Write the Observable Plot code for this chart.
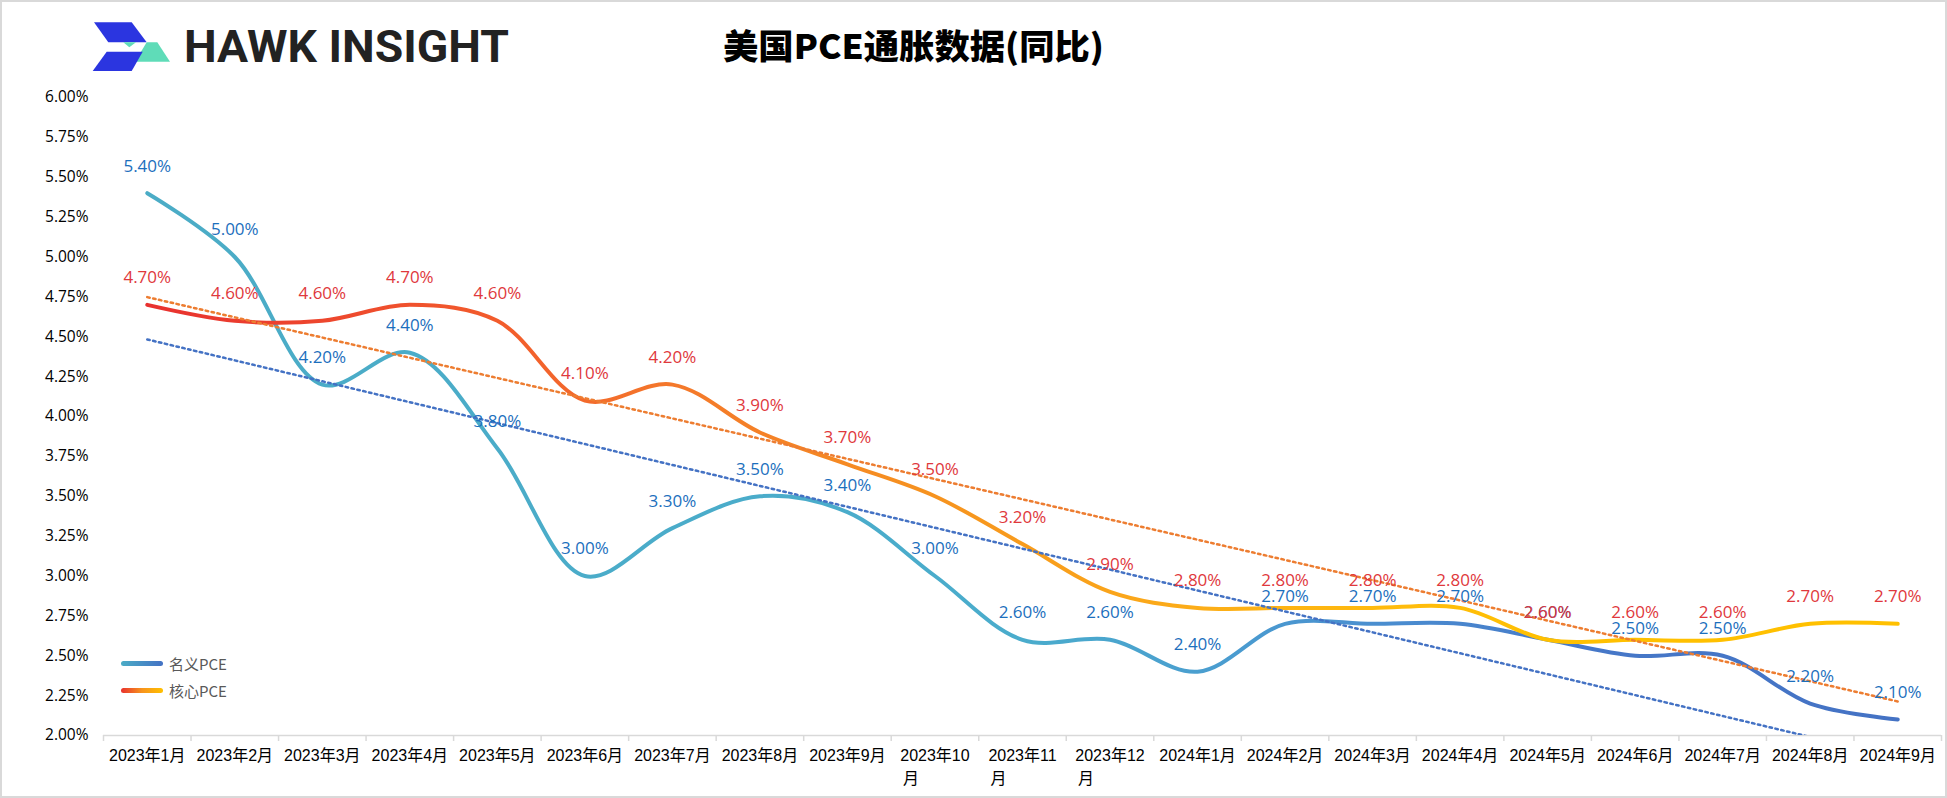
<!DOCTYPE html>
<html>
<head>
<meta charset="utf-8">
<script src="https://cdn.jsdelivr.net/npm/d3@7"></script>
<script src="https://cdn.jsdelivr.net/npm/@observablehq/plot@0.6"></script>
<style>
  html, body { margin: 0; padding: 0; background: #fff; }
  #wrap { position: relative; width: 1947px; height: 798px; overflow: hidden; background: #fff; }
  #frame { position: absolute; left: 0; top: 0; width: 1947px; height: 798px; box-sizing: border-box; border: 2px solid #d9d9d9; pointer-events: none; z-index: 5; }
  #header { position: absolute; left: 0; top: 0; }
  #chart { position: absolute; left: 0; top: 80px; }
  #legend { position: absolute; left: 121px; top: 650px; font-family: "Noto Sans CJK SC", "Open Sans", sans-serif; font-size: 15px; color: #595959; }
  .lg { display: flex; align-items: center; height: 27px; }
  .sw { width: 42px; height: 5px; border-radius: 3px; margin-right: 6px; }
</style>
</head>
<body>
<div id="wrap">
  <svg id="header" width="1947" height="80" xmlns="http://www.w3.org/2000/svg">
    <polygon points="94,22.3 131.7,22.3 146.7,42.3 108.3,42.3" fill="#2b35e0"/>
    <polygon points="146.7,42.3 157.3,42.3 170,61.7 135,61.7" fill="#5fdcb8"/>
    <polygon points="123.3,42.3 136,42.3 129.3,47.3" fill="#5fdcb8"/>
    <polygon points="106.7,51.7 142.7,51.7 131.7,71 92.7,71" fill="#2b35e0"/>
    <text x="184" y="62" font-family="Roboto, 'Liberation Sans', sans-serif" font-weight="700" font-size="44" fill="#222" textLength="325" lengthAdjust="spacingAndGlyphs">HAWK INSIGHT</text>
    <text x="723" y="59" font-family="'Noto Sans CJK SC', sans-serif" font-weight="900" font-size="34" fill="#000" textLength="381" lengthAdjust="spacingAndGlyphs">美国PCE通胀数据(同比)</text>
  </svg>
  <div id="chart"></div>
  <div id="legend">
    <div class="lg"><div class="sw" style="background: linear-gradient(to right, #4bacc6, #4472c4);"></div><span>名义PCE</span></div>
    <div class="lg"><div class="sw" style="background: linear-gradient(to right, #e8312f, #f7941d, #ffc000);"></div><span>核心PCE</span></div>
  </div>
  <div id="frame"></div>
</div>
<script>
// ---- data ----
const categories = [
  "2023年1月", "2023年2月", "2023年3月", "2023年4月", "2023年5月", "2023年6月",
  "2023年7月", "2023年8月", "2023年9月", "2023年10\n月", "2023年11\n月", "2023年12\n月",
  "2024年1月", "2024年2月", "2024年3月", "2024年4月", "2024年5月", "2024年6月",
  "2024年7月", "2024年8月", "2024年9月"
];
const nominalPCE = [5.4, 5.0, 4.2, 4.4, 3.8, 3.0, 3.3, 3.5, 3.4, 3.0, 2.6, 2.6, 2.4, 2.7, 2.7, 2.7, 2.6, 2.5, 2.5, 2.2, 2.1];
const corePCE    = [4.7, 4.6, 4.6, 4.7, 4.6, 4.1, 4.2, 3.9, 3.7, 3.5, 3.2, 2.9, 2.8, 2.8, 2.8, 2.8, 2.6, 2.6, 2.6, 2.7, 2.7];
const yTicks = [2.00, 2.25, 2.50, 2.75, 3.00, 3.25, 3.50, 3.75, 4.00, 4.25, 4.50, 4.75, 5.00, 5.25, 5.50, 5.75, 6.00];

const n = categories.length;
const nomData = nominalPCE.map((v, k) => ({i: k + 1, v}));
const coreData = corePCE.map((v, k) => ({i: k + 1, v}));
const centers = categories.map((_, k) => k + 1);
const bounds = d3.range(0, n + 1).map(k => k + 0.5);
const firstLine = d => categories[d - 1].split("\n")[0];
const secondLine = d => categories[d - 1].split("\n")[1] || "";
const pct = v => v.toFixed(2) + "%";

const defs = () => {
  const g = document.createElementNS("http://www.w3.org/2000/svg", "g");
  g.innerHTML = `
    <defs>
      <linearGradient id="gradNom" x1="0" x2="1" y1="0" y2="0">
        <stop offset="0" stop-color="#4bacc6"/>
        <stop offset="0.5" stop-color="#4aaccc"/>
        <stop offset="0.62" stop-color="#4a9cd0"/>
        <stop offset="0.72" stop-color="#4a8bcf"/>
        <stop offset="0.82" stop-color="#4678c8"/>
        <stop offset="1" stop-color="#4472c4"/>
      </linearGradient>
      <linearGradient id="gradCore" x1="0" x2="1" y1="0" y2="0">
        <stop offset="0" stop-color="#e8312f"/>
        <stop offset="0.2" stop-color="#f25c2c"/>
        <stop offset="0.3" stop-color="#f4782b"/>
        <stop offset="0.45" stop-color="#f6931f"/>
        <stop offset="0.6" stop-color="#fcad18"/>
        <stop offset="0.72" stop-color="#ffbc0c"/>
        <stop offset="0.8" stop-color="#ffc000"/>
        <stop offset="1" stop-color="#ffc000"/>
      </linearGradient>
    </defs>`;
  return g;
};

const chart = Plot.plot({
  width: 1947,
  height: 718,
  marginTop: 17,
  marginBottom: 63,
  marginLeft: 103,
  marginRight: 6,
  style: {fontFamily: "'Open Sans', sans-serif", background: "#fff"},
  x: {type: "linear", domain: [0.5, n + 0.5]},
  y: {type: "linear", domain: [2, 6]},
  marks: [
    defs,
    Plot.ruleY([2], {stroke: "#d9d9d9", strokeWidth: 1.5}),
    Plot.axisY({ticks: yTicks, tickSize: 0, tickPadding: 15, tickFormat: pct, fontSize: 15.5, color: "#000", label: null}),
    Plot.axisX({ticks: bounds, tickSize: 6, tickFormat: () => "", color: "#d9d9d9", strokeWidth: 1.5, label: null}),
    Plot.axisX({ticks: centers, tickSize: 0, tickPadding: 14, tickFormat: firstLine, fontSize: 16, fontFamily: "'Liberation Sans', 'Noto Sans CJK SC', sans-serif", color: "#000", label: null}),
    Plot.axisX({ticks: centers, tickSize: 0, tickPadding: 37, tickFormat: secondLine, textAnchor: "start", dx: -32, fontSize: 16, fontFamily: "'Liberation Sans', 'Noto Sans CJK SC', sans-serif", color: "#000", label: null}),
    Plot.line(nomData, {x: "i", y: "v", curve: "catmull-rom", stroke: "url(#gradNom)", strokeWidth: 4, strokeLinecap: "round"}),
    Plot.line(coreData, {x: "i", y: "v", curve: "catmull-rom", stroke: "url(#gradCore)", strokeWidth: 4, strokeLinecap: "round"}),
    Plot.linearRegressionY(nomData, {x: "i", y: "v", ci: 0, stroke: "#4472c4", strokeWidth: 2.5, strokeDasharray: "2.5,3.5", clip: true}),
    Plot.linearRegressionY(coreData, {x: "i", y: "v", ci: 0, stroke: "#ed7d31", strokeWidth: 2.5, strokeDasharray: "2.5,3.5", clip: true}),
    Plot.text(nomData, {x: "i", y: "v", text: d => pct(d.v), dy: -27, fill: "#1c6fbd", fontSize: 17, fontFamily: "'Open Sans', sans-serif"}),
    Plot.text(coreData, {x: "i", y: "v", text: d => pct(d.v), dy: -27, fill: "#e0383c", fontSize: 17, fontFamily: "'Open Sans', sans-serif"})
  ]
});
document.getElementById("chart").appendChild(chart);
</script>
</body>
</html>
